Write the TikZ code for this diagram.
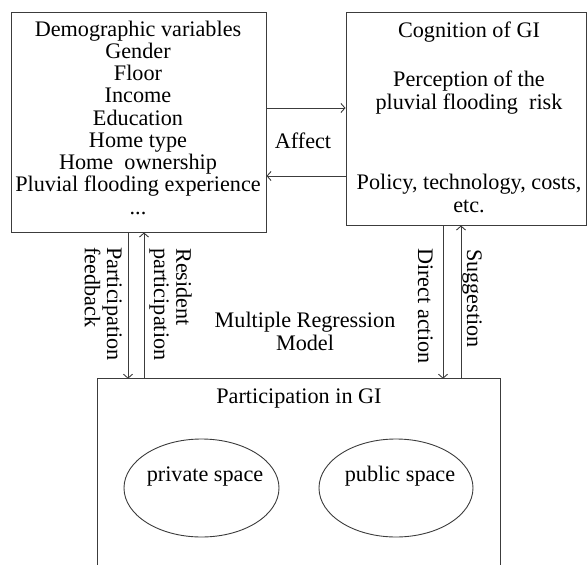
\documentclass[tikz,border=0pt]{standalone}
\usepackage{fontspec}
\setmainfont{Liberation Serif}
\usetikzlibrary{shapes.geometric,arrows.meta}
\definecolor{linegray}{HTML}{3C3C3C}
\tikzset{
  txt/.style={font=\fontsize{22.2}{22.25}\selectfont, inner sep=0pt, text=black},
  boxshape/.style={draw=linegray, line width=0.9pt, rectangle, inner sep=0pt},
  conn/.style={draw=linegray, line width=0.9pt, -{Straight Barb[length=4pt,width=9pt]}},
  oval/.style={draw=linegray, line width=0.9pt, ellipse, inner sep=0pt},
}
\begin{document}
\begin{tikzpicture}[x=1pt,y=-1pt]
\useasboundingbox (0,0) rectangle (587,565);
% boxes
\node[boxshape, minimum width=255pt, minimum height=220pt] (demo) at (138.5,122) {};
\node[boxshape, minimum width=240pt, minimum height=213pt] (cog) at (466,118.5) {};
\node[inner sep=0pt, minimum width=402pt, minimum height=200pt] (part) at (299,479) {};
\draw[linegray, line width=0.9pt] (part.south west) |- (part.north east) -- (part.south east);
% texts (anchor=base is the baseline of the last line)
\node[txt, align=center, anchor=base] (demotxt) at (138,214)
  {Demographic variables\\Gender\\Floor\\Income\\Education\\Home type\\Home\ \ ownership\\Pluvial flooding experience\\...};
\node[txt, anchor=base] (cogtitle) at (469,37) {Cognition of GI};
\node[txt, align=center, anchor=base] (perc) at (469,109) {Perception of the\\pluvial flooding\ \ risk};
\node[txt, align=center, anchor=base] (policy) at (469,212) {Policy, technology, costs,\\etc.};
\node[txt, anchor=base] (affect) at (303,148) {Affect};
\node[txt, align=center, anchor=base] (mrm) at (305,350) {Multiple Regression\\Model};
\node[txt, anchor=base] (parttitle) at (299,403) {Participation in GI};
% ellipses
\node[oval, minimum width=155pt, minimum height=98pt] (priv) at (201.5,488) {};
\node[oval, minimum width=154pt, minimum height=98pt] (pub) at (396,488) {};
\node[txt, anchor=base] (privtxt) at (205,481) {private space};
\node[txt, anchor=base] (pubtxt) at (400,481) {public space};
% affect connectors
\coordinate (ya) at (0,108);
\coordinate (yb) at (0,176);
\draw[conn] (demo.east |- ya) -- (cog.west |- ya);
\draw[conn] (cog.west |- yb) -- (demo.east |- yb);
% vertical connectors
\coordinate (xfb) at (128,0);
\coordinate (xrp) at (144,0);
\coordinate (xda) at (443,0);
\coordinate (xsg) at (461,0);
\draw[conn] (demo.south -| xfb) -- (part.north -| xfb);
\draw[conn] (part.north -| xrp) -- (demo.south -| xrp);
\draw[conn] (cog.south -| xda) -- (part.north -| xda);
\draw[conn] (part.north -| xsg) -- (cog.south -| xsg);
% vertical labels
\node[txt, rotate=-90, align=left, anchor=north west] (fbtxt) at (122,247) {Participation\\feedback};
\node[txt, rotate=-90, align=left, anchor=north west] (rptxt) at (192,248) {Resident\\participation};
\node[txt, rotate=-90, anchor=north west] (datxt) at (433,248) {Direct action};
\node[txt, rotate=-90, anchor=north west] (sgtxt) at (482,249) {Suggestion};
\end{tikzpicture}
\end{document}
